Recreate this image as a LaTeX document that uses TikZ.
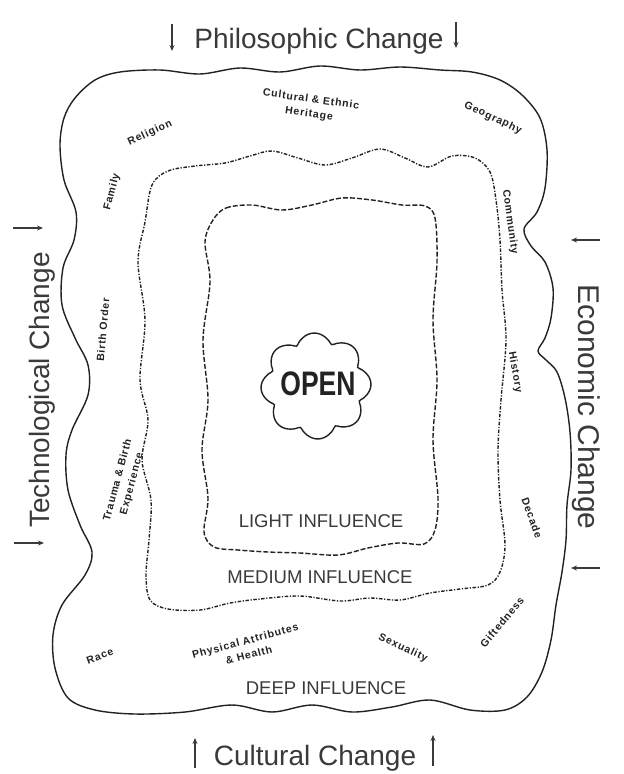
\documentclass[tikz,border=0pt]{standalone}
\usepackage{fontspec}
\usetikzlibrary{arrows.meta}
\setmainfont{Liberation Sans}
\newfontfamily\factorfont[LetterSpace=8]{Liberation Sans}
\definecolor{ink}{HTML}{222222}
\definecolor{soft}{HTML}{3A3A3A}
\begin{document}
\begin{tikzpicture}[x=1pt,y=-1pt,
  outerline/.style={draw=ink,line width=1.4pt,line join=round},
  midline/.style={draw=ink,line width=1.4pt,dash pattern=on 3.5pt off 1.6pt on 1.2pt off 1.6pt},
  innerline/.style={draw=ink,line width=1.4pt,dash pattern=on 5pt off 2pt},
  factor/.style={font=\factorfont\fontsize{10.5}{14.5}\selectfont\bfseries,text=ink,align=center,inner sep=0pt},
  level/.style={font=\fontsize{18.5}{20}\selectfont,text=soft,inner sep=0pt},
  change/.style={font=\fontsize{28}{30}\selectfont,text=soft,inner sep=0pt},
  forcearrow/.style={draw=soft,line width=1.1pt,-{Stealth[length=6pt,width=5pt]}}]
\useasboundingbox (0,0) rectangle (624,774);
\fill[white] (0,0) rectangle (624,774);

% outer boundary
\draw[outerline] plot[smooth cycle,tension=0.55] coordinates {
 (75,98) (95,80) (120,72) (160,70) (200,74) (240,68) (280,72) (320,66) (360,70) (400,67)
 (440,70) (472,72) (500,80) (522,95) (540,118) (547,150) (545,188) (537,212) (524,229)
 (531,246) (545,262) (553,288) (551,318) (545,338) (538,351) (546,360) (557,372) (565,398)
 (570,432) (571,470) (567,505) (566,540) (562,572) (556,605) (551,640) (542,672) (527,697)
 (505,710) (470,710) (430,700) (392,707) (352,712) (312,705) (272,712) (232,705) (185,712)
 (135,714) (95,710) (68,698) (55,668) (53,635) (62,605) (85,575) (92,552) (80,525)
 (68,490) (66,455) (72,430) (88,395) (88,365) (75,338) (62,305) (63,268) (74,240)
 (76,212) (64,180) (60,145) (64,118)};

% medium boundary
\draw[midline] plot[smooth cycle,tension=0.55] coordinates {
 (152,185) (168,171) (195,166) (225,163) (250,156) (272,151) (298,158) (325,165) (352,158)
 (380,149) (405,158) (428,167) (452,156) (475,158) (490,172) (496,200) (500,240)
 (502,290) (506,340) (501,400) (498,450) (500,500) (505,545) (500,572) (488,585)
 (460,589) (430,593) (400,600) (370,598) (340,601) (300,596) (260,599) (230,603)
 (200,610) (168,609) (150,600) (146,575) (149,540) (151,500) (142,460) (148,420)
 (140,380) (145,320) (138,262) (145,222)};

% inner boundary
\draw[innerline] plot[smooth cycle,tension=0.55] coordinates {
 (213,220) (226,208) (252,205) (282,210) (312,205) (342,198) (372,200) (402,205)
 (425,206) (435,218) (437,262) (433,320) (437,380) (433,440) (438,498) (435,530)
 (424,544) (398,543) (368,548) (338,555) (300,553) (268,552) (238,550) (214,547)
 (204,532) (208,498) (202,450) (208,400) (203,340) (210,282) (205,242)};

% OPEN cloud
\draw[draw=ink,line width=1.4pt] plot[smooth cycle,domain=0:355,samples=72]
  ({316+(46+9*abs(cos(4*\x+10)))*cos(\x)},{386+(44+9*abs(cos(4*\x+10)))*sin(\x)});
\node[font=\fontsize{34}{34}\selectfont\bfseries,text=ink,xscale=0.78,inner sep=0pt] (open) at (318,384) {OPEN};

% influence levels
\node[level] (light) at (321,521) {LIGHT INFLUENCE};
\node[level] (medium) at (320,577) {MEDIUM INFLUENCE};
\node[level] (deep) at (326,688) {DEEP INFLUENCE};

% factors
\node[factor,rotate=25] (religion) at (150,133) {Religion};
\node[factor,rotate=-8] (heritage) at (310,107) {Cultural \& Ethnic\\Heritage};
\node[factor,rotate=-25] (geography) at (493,118) {Geography};
\node[factor,rotate=75] (family) at (112,192) {Family};
\node[factor,rotate=-82] (community) at (510,222) {Community};
\node[factor,rotate=85] (birth) at (103,330) {Birth Order};
\node[factor,rotate=-80] (history) at (515,372) {History};
\node[factor,rotate=75] (trauma) at (125,482) {Trauma \& Birth\\Experience};
\node[factor,rotate=-70] (decade) at (532,518) {Decade};
\node[factor,rotate=50] (gifted) at (502,622) {Giftedness};
\node[factor,rotate=20] (race) at (100,656) {Race};
\node[factor,rotate=15] (physical) at (247,648) {Physical Attributes\\\& Health};
\node[factor,rotate=-25] (sexuality) at (403,648) {Sexuality};

% change forces
\node[change] (philo) at (319,41) {Philosophic Change};
\node[change] (cult) at (315,758) {Cultural Change};
\node[change,rotate=90] (tech) at (42,390) {Technological Change};
\node[change,rotate=-90,font=\fontsize{30}{32}\selectfont] (econ) at (586,407) {Economic Change};

\coordinate (pL1) at (172,24); \coordinate (pL2) at (172,51);
\coordinate (pR1) at (456,22); \coordinate (pR2) at (456,48);
\coordinate (cL1) at (195,768); \coordinate (cL2) at (195,738);
\coordinate (cR1) at (433,766); \coordinate (cR2) at (433,735);
\coordinate (tT1) at (13,228); \coordinate (tT2) at (43,228);
\coordinate (tB1) at (14,543); \coordinate (tB2) at (44,543);
\coordinate (eT1) at (600,240); \coordinate (eT2) at (571,240);
\coordinate (eB1) at (600,568); \coordinate (eB2) at (571,568);
\draw[forcearrow] (pL1) -- (pL2);
\draw[forcearrow] (pR1) -- (pR2);
\draw[forcearrow] (cL1) -- (cL2);
\draw[forcearrow] (cR1) -- (cR2);
\draw[forcearrow] (tT1) -- (tT2);
\draw[forcearrow] (tB1) -- (tB2);
\draw[forcearrow] (eT1) -- (eT2);
\draw[forcearrow] (eB1) -- (eB2);
\end{tikzpicture}
\end{document}
